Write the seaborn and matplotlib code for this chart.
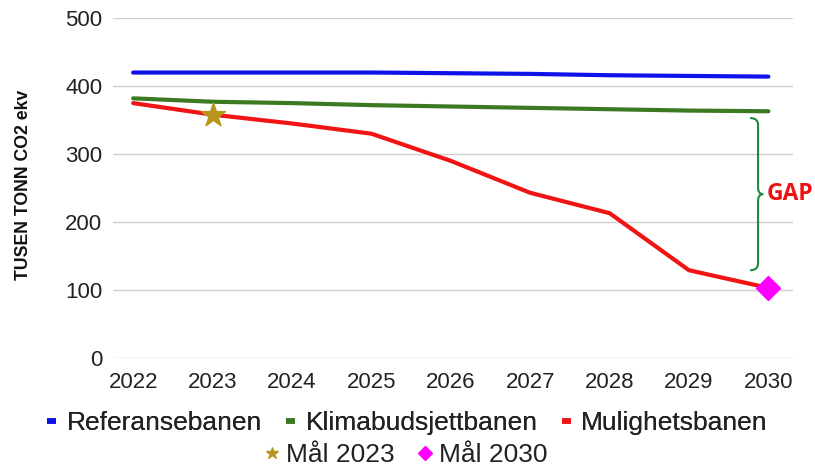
import matplotlib.pyplot as plt
import seaborn as sns
import pandas as pd
from matplotlib.lines import Line2D
from matplotlib.path import Path
from matplotlib.patches import PathPatch

years = [2022, 2023, 2024, 2025, 2026, 2027, 2028, 2029, 2030]
referanse = [420, 420, 420, 420, 419, 418, 416, 415, 414]
klima = [382, 377, 375, 372, 370, 368, 366, 364, 363]
muligheter = [375, 358, 345, 330, 290, 243, 213, 129, 103]
maal_2023 = (2023, 358)
maal_2030 = (2030, 103)
yticks = [0, 100, 200, 300, 400, 500]

df = pd.DataFrame({'År': years, 'Referansebanen': referanse,
                   'Klimabudsjettbanen': klima, 'Mulighetsbanen': muligheter})

sns.set_style('white')
plt.rcParams['font.family'] = ['Liberation Sans', 'DejaVu Sans']

fig = plt.figure(figsize=(8.15, 4.66), dpi=100)
ax = fig.add_axes([0.139, 0.232, 0.834, 0.729])

sns.lineplot(data=df, x='År', y='Referansebanen', color='#0d12e8', lw=3, ax=ax)
sns.lineplot(data=df, x='År', y='Klimabudsjettbanen', color='#3b7a22', lw=3, ax=ax)
sns.lineplot(data=df, x='År', y='Mulighetsbanen', color='#f01414', lw=3, ax=ax)
ax.scatter([maal_2023[0]], [maal_2023[1]], marker='*', s=330, color='#b8951c', zorder=5)
ax.scatter([maal_2030[0]], [maal_2030[1]], marker='D', s=150, color='#ff00ff', zorder=5)

ax.set_xlim(2021.75, 2030.31)
ax.set_ylim(0, 500)
ax.set_xticks(years)
ax.set_yticks(yticks)
ax.tick_params(axis='both', labelsize=16, colors='#222222', length=0)
ax.tick_params(axis='x', pad=10)
ax.tick_params(axis='y', pad=8)
ax.grid(axis='y', color='#d0d0d0', lw=1)
for s in ax.spines.values():
    s.set_visible(False)
ax.set_xlabel('')
ax.set_ylabel('TUSEN TONN CO2 ekv', fontsize=12.7, fontweight='bold', color='#111111')
ax.yaxis.set_label_coords(-0.12, 0.509)

# GAP-klamme
top, bot, xb = 353, 129, 2029.87
mid = (top + bot) / 2
d, tip = 0.1, 0.065
verts = [(xb - d, top), (xb, top), (xb, top - 10), (xb, mid + 10), (xb, mid), (xb + tip, mid),
         (xb, mid), (xb, mid - 10), (xb, bot + 10), (xb, bot), (xb - d, bot)]
codes = [Path.MOVETO, Path.CURVE3, Path.CURVE3, Path.LINETO, Path.CURVE3, Path.CURVE3,
         Path.CURVE3, Path.CURVE3, Path.LINETO, Path.CURVE3, Path.CURVE3]
ax.add_patch(PathPatch(Path(verts, codes), fill=False, ec='#1f8a3a', lw=1.5, clip_on=False))
ax.text(xb + 0.105, mid, 'GAP', color='#f01010', fontsize=16.5, fontweight='bold',
        va='center', ha='left', family=['Open Sans', 'DejaVu Sans'], clip_on=False)

h1 = [Line2D([], [], color='#0d12e8', lw=4, solid_capstyle='butt'),
      Line2D([], [], color='#3b7a22', lw=4, solid_capstyle='butt'),
      Line2D([], [], color='#f01414', lw=4, solid_capstyle='butt')]
leg1 = fig.legend(h1, ['Referansebanen', 'Klimabudsjettbanen', 'Mulighetsbanen'],
                  loc='center', bbox_to_anchor=(0.5, 0.092), ncol=3, frameon=False,
                  fontsize=19, handlelength=0.35, handletextpad=0.4, columnspacing=0.9,
                  labelcolor='#222222', borderpad=0, borderaxespad=0)
h2 = [Line2D([], [], color='#b8951c', marker='*', ls='', ms=9),
      Line2D([], [], color='#ff00ff', marker='D', ls='', ms=7)]
fig.legend(h2, ['Mål 2023', 'Mål 2030'], loc='center', bbox_to_anchor=(0.5, 0.024),
           ncol=2, frameon=False, fontsize=19, handlelength=0.35, handletextpad=0.35,
           columnspacing=1.0, labelcolor='#222222', borderpad=0, borderaxespad=0)
fig.add_artist(leg1)

fig.savefig('out.png', dpi=100)
plt.close()
